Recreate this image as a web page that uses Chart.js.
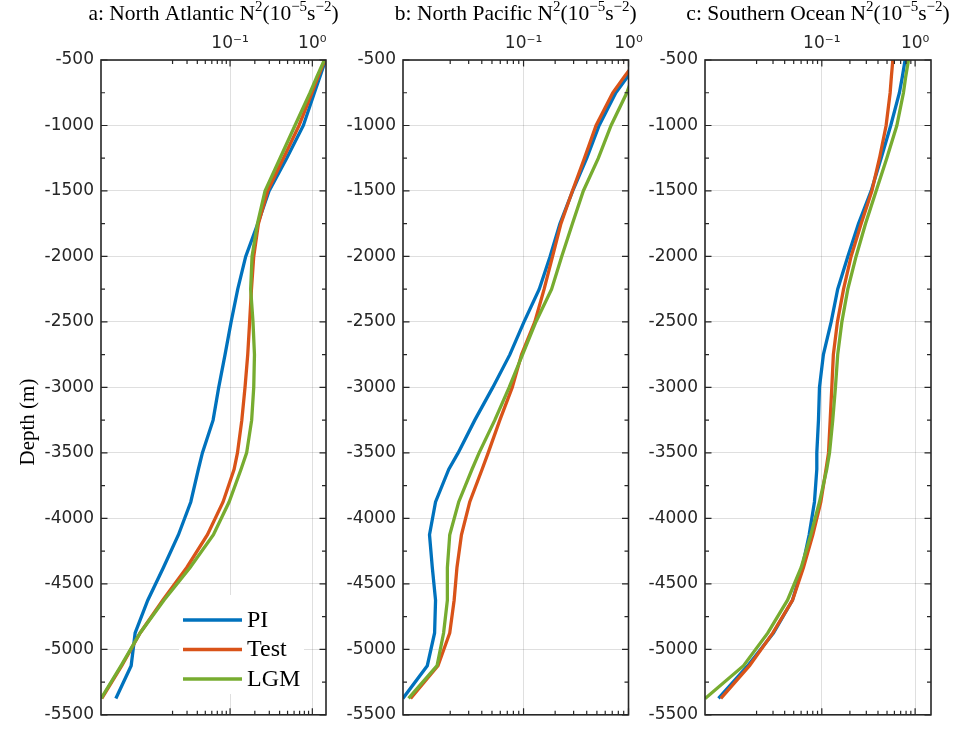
<!DOCTYPE html>
<html>
<head>
<meta charset="utf-8">
<script src="https://cdn.jsdelivr.net/npm/chart.js@4.4.1/dist/chart.umd.min.js"></script>
<style>
  html, body { margin: 0; padding: 0; background: #fff; }
  #wrap { position: relative; width: 961px; height: 732px; }
  #wrap canvas { position: absolute; left: 0; top: 0; }
</style>
</head>
<body>
<div id="wrap">
  <canvas id="pa" width="961" height="732"></canvas>
  <canvas id="pb" width="961" height="732"></canvas>
  <canvas id="pc" width="961" height="732"></canvas>
</div>
<script>
// depth levels (m), shared by all panels
const depth = [-500, -625, -750, -1000, -1250, -1500, -1750, -2000, -2250, -2500, -2750,
  -3000, -3250, -3500, -3625, -3875, -4125, -4375, -4625, -4875, -5125, -5375];

// a: North Atlantic N^2
const naPI   = [1.45, 1.24, 1.06, 0.778, 0.488, 0.298, 0.217, 0.155, 0.124, 0.103, 0.0869,
  0.0728, 0.0622, 0.0461, 0.0412, 0.0333, 0.0236, 0.0155, 0.0100, 0.00702, 0.00628, 0.00409];
const naTest = [1.425, 1.18, 0.991, 0.689, 0.445, 0.286, 0.221, 0.194, 0.182, 0.173, 0.164,
  0.152, 0.139, 0.123, 0.112, 0.0822, 0.0531, 0.0298, 0.0152, 0.00807, 0.00483, 0.00276];
const naLGM  = [1.40, 1.14, 0.938, 0.615, 0.405, 0.266, 0.215, 0.185, 0.178, 0.190, 0.198,
  0.194, 0.183, 0.159, 0.136, 0.0973, 0.0628, 0.0327, 0.0157, 0.00807, 0.00474, 0.00271];

// b: North Pacific N^2
const npPI   = [1.247, 0.986, 0.757, 0.525, 0.400, 0.294, 0.222, 0.179, 0.141, 0.101, 0.0740,
  0.0509, 0.0343, 0.0238, 0.0194, 0.0145, 0.0127, 0.0135, 0.0145, 0.0142, 0.0121, 0.00708];
const npTest = [1.202, 0.916, 0.708, 0.491, 0.380, 0.292, 0.227, 0.189, 0.157, 0.128, 0.0957,
  0.0780, 0.0594, 0.0460, 0.0403, 0.0307, 0.0256, 0.0232, 0.0218, 0.0198, 0.0153, 0.00839];
const npLGM  = [1.40, 1.10, 0.964, 0.682, 0.516, 0.371, 0.292, 0.231, 0.185, 0.131, 0.0978,
  0.0729, 0.0532, 0.0377, 0.0323, 0.0241, 0.0198, 0.0188, 0.0188, 0.0173, 0.0150, 0.00802];

// c: Southern Ocean N^2
const soPI   = [0.781, 0.731, 0.679, 0.548, 0.432, 0.338, 0.247, 0.190, 0.148, 0.126, 0.104,
  0.0944, 0.0921, 0.0884, 0.0884, 0.0834, 0.0732, 0.0616, 0.0485, 0.0303, 0.0161, 0.00781];
const soTest = [0.577, 0.557, 0.540, 0.489, 0.415, 0.344, 0.264, 0.206, 0.171, 0.147, 0.133,
  0.128, 0.123, 0.118, 0.111, 0.0976, 0.0801, 0.0636, 0.0485, 0.0299, 0.0168, 0.00828];
const soLGM  = [0.849, 0.794, 0.750, 0.637, 0.497, 0.382, 0.294, 0.233, 0.190, 0.164, 0.148,
  0.140, 0.131, 0.121, 0.113, 0.0944, 0.0763, 0.0601, 0.0429, 0.0264, 0.0145, 0.00562];

const seriesNames  = ["PI", "Test", "LGM"];
const seriesColors = ["#0072BD", "#D95319", "#77AC30"];

const xDecades     = [0.01, 0.1, 1];
const xMajorLabels = { "0.1": "10\u207B\u00B9", "1": "10\u2070" };
const xMinorSteps  = [2, 3, 4, 5, 6, 7, 8, 9];
const yMin = -5500, yMax = -500, yStep = 250, yLabelStep = 500;

// tick list on the log axis: minor ticks 2..9 of each decade, plus the decades 0.1 and 1
const xTicks = [];
xDecades.forEach(function(d, i) {
  if (i > 0) xTicks.push(d);
  if (i < xDecades.length - 1) xMinorSteps.forEach(function(m) { xTicks.push(+(m * d).toPrecision(6)); });
});

function isDecade(v) {
  const l = Math.log10(v);
  return Math.abs(l - Math.round(l)) < 1e-9;
}

const panels = [
  { id: "pa", title: "a: North Atlantic", series: [naPI, naTest, naLGM], xMin: 0.0027, xMax: 1.466,
    left: 101, right: 326, yWidth: 101, yTitle: "Depth (m)", legend: true },
  { id: "pb", title: "b: North Pacific", series: [npPI, npTest, npLGM], xMin: 0.0071, xMax: 1.0,
    left: 403, right: 628.5, yWidth: 60 },
  { id: "pc", title: "c: Southern Ocean", series: [soPI, soTest, soLGM], xMin: 0.0056, xMax: 1.48,
    left: 705, right: 931, yWidth: 60 }
];
const areaTop = 60, areaBottom = 717;
const axisColor = "#262626";
const gridColor = "rgba(38,38,38,0.15)";

function drawRich(ctx, parts, cx, baseline, size) {
  const main = size + 'px "Liberation Serif"';
  const sup = Math.round(size * 0.7) + 'px "Liberation Serif"';
  let total = 0;
  parts.forEach(function(p) { ctx.font = p[1] ? sup : main; total += ctx.measureText(p[0]).width; });
  let x = cx - total / 2;
  ctx.textAlign = "left";
  ctx.textBaseline = "alphabetic";
  parts.forEach(function(p) {
    ctx.font = p[1] ? sup : main;
    ctx.fillText(p[0], x, p[1] ? baseline - size * 0.4 : baseline);
    x += ctx.measureText(p[0]).width;
  });
}

function makeFrame(p) {
  return {
    id: "frame",
    afterDatasetsDraw: function(chart) {
      const ctx = chart.ctx, a = chart.chartArea, xs = chart.scales.x, ys = chart.scales.y;
      ctx.save();
      ctx.strokeStyle = axisColor;
      ctx.lineWidth = 1.2;
      ctx.beginPath();
      xs.ticks.forEach(function(t) {
        const px = xs.getPixelForValue(t.value);
        const len = isDecade(t.value) ? 6.5 : 4;
        ctx.moveTo(px, a.top); ctx.lineTo(px, a.top + len);
        ctx.moveTo(px, a.bottom); ctx.lineTo(px, a.bottom - len);
      });
      ys.ticks.forEach(function(t) {
        const py = ys.getPixelForValue(t.value);
        const len = t.value % yLabelStep === 0 ? 6.5 : 4;
        ctx.moveTo(a.left, py); ctx.lineTo(a.left + len, py);
        ctx.moveTo(a.right, py); ctx.lineTo(a.right - len, py);
      });
      ctx.stroke();
      ctx.lineWidth = 1.6;
      ctx.strokeRect(a.left, a.top, a.right - a.left, a.bottom - a.top);
      ctx.restore();
    },
    afterDraw: function(chart) {
      const ctx = chart.ctx, a = chart.chartArea;
      ctx.save();
      ctx.fillStyle = "#000";
      drawRich(ctx, [[p.title + " N", false], ["2", true], ["(10", false], ["\u22125", true],
        ["s", false], ["\u22122", true], [")", false]], (a.left + a.right) / 2, 20, 21.5);
      if (p.yTitle) {
        ctx.save();
        ctx.translate(28, 422);
        ctx.rotate(-Math.PI / 2);
        ctx.font = '21px "Liberation Serif"';
        ctx.textAlign = "center";
        ctx.textBaseline = "middle";
        ctx.fillText(p.yTitle, 0, 0);
        ctx.restore();
      }
      if (p.legend) {
        ctx.fillStyle = "#fff";
        ctx.fillRect(179, 595, 125, 99);
        const rows = [620, 649.5, 679];
        seriesNames.forEach(function(n, k) {
          ctx.strokeStyle = seriesColors[k];
          ctx.lineWidth = 3.3;
          ctx.beginPath();
          ctx.moveTo(183, rows[k]); ctx.lineTo(242, rows[k]);
          ctx.stroke();
          ctx.fillStyle = "#000";
          ctx.font = '24px "Liberation Serif"';
          ctx.textAlign = "left";
          ctx.textBaseline = "alphabetic";
          ctx.fillText(n, 247, rows[k] + 6.5);
        });
      }
      ctx.restore();
    }
  };
}

panels.forEach(function(p) {
  new Chart(document.getElementById(p.id), {
    type: "scatter",
    data: {
      datasets: seriesNames.map(function(n, k) {
        return {
          label: n,
          data: depth.map(function(d, i) { return { x: p.series[k][i], y: d }; }),
          showLine: true,
          borderColor: seriesColors[k],
          backgroundColor: seriesColors[k],
          borderWidth: 3.3,
          pointRadius: 0,
          tension: 0,
          order: 2 - k
        };
      })
    },
    options: {
      responsive: false,
      animation: false,
      events: [],
      layout: { padding: { left: p.left - p.yWidth, right: 961 - p.right, top: 0, bottom: 732 - areaBottom } },
      plugins: { legend: { display: false }, tooltip: { enabled: false } },
      scales: {
        x: {
          type: "logarithmic",
          position: "top",
          min: p.xMin,
          max: p.xMax,
          afterFit: function(s) { s.height = areaTop; },
          afterBuildTicks: function(s) { s.ticks = xTicks.map(function(v) { return { value: v }; }); },
          border: { display: false },
          grid: {
            drawTicks: false,
            lineWidth: 1,
            color: function(c) { return c.tick && isDecade(c.tick.value) ? gridColor : "rgba(0,0,0,0)"; }
          },
          ticks: {
            autoSkip: false,
            maxRotation: 0,
            padding: 6,
            color: axisColor,
            font: { family: "DejaVu Sans", size: 17 },
            callback: function(v) { return xMajorLabels[String(v)] || ""; }
          }
        },
        y: {
          type: "linear",
          min: yMin,
          max: yMax,
          afterFit: function(s) { s.width = p.yWidth; },
          border: { display: false },
          grid: {
            drawTicks: false,
            lineWidth: 1,
            color: function(c) { return c.tick && c.tick.value % yLabelStep === 0 ? gridColor : "rgba(0,0,0,0)"; }
          },
          ticks: {
            stepSize: yStep,
            autoSkip: false,
            padding: 7,
            color: axisColor,
            font: { family: "DejaVu Sans", size: 17 },
            callback: function(v) { return v % yLabelStep === 0 ? String(v) : ""; }
          }
        }
      }
    },
    plugins: [makeFrame(p)]
  });
});
</script>
</body>
</html>
